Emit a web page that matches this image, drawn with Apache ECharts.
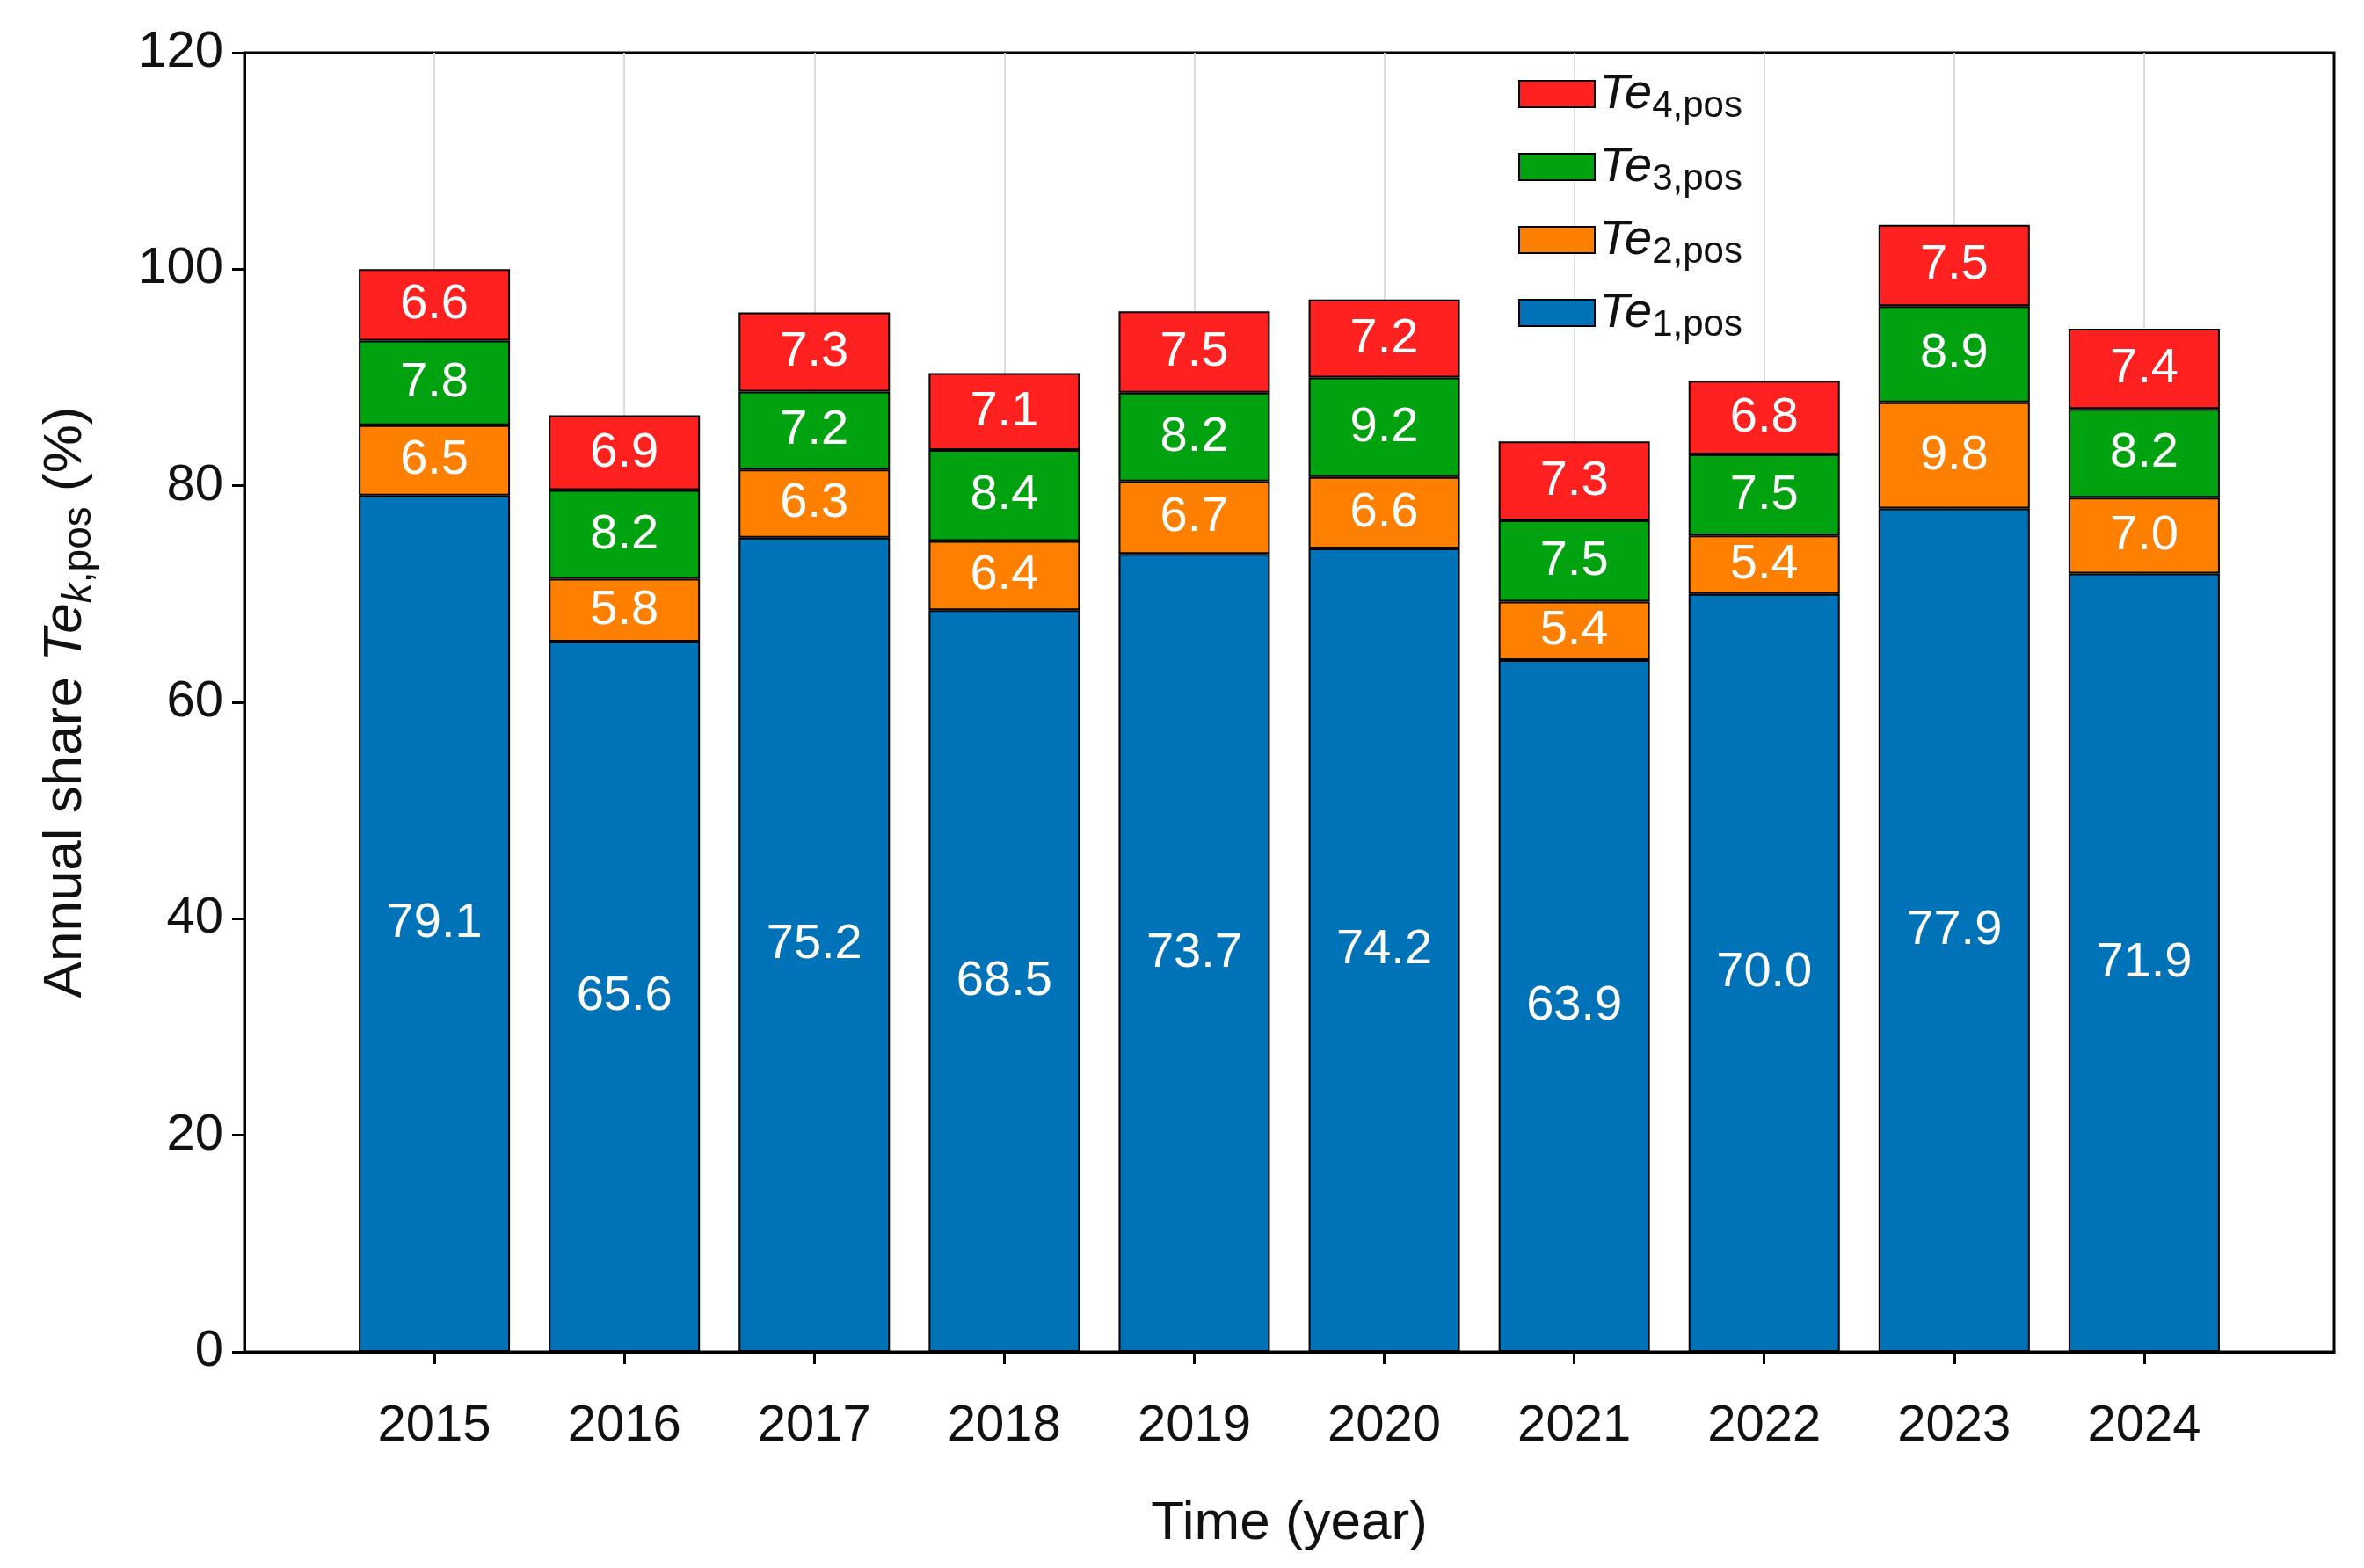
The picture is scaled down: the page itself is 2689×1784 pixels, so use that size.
<!DOCTYPE html>
<html>
<head>
<meta charset="utf-8">
<script src="https://cdn.jsdelivr.net/npm/echarts@6/dist/echarts.min.js"></script>
<style>html,body{margin:0;background:#fff}#chart{width:2689px;height:1784px}</style>
</head>
<body>
<div id="chart"></div>
<script>
const years = ['2015', '2016', '2017', '2018', '2019', '2020', '2021', '2022', '2023', '2024'];
const te1 = [79.1, 65.6, 75.2, 68.5, 73.7, 74.2, 63.9, 70.0, 77.9, 71.9];
const te2 = [6.5, 5.8, 6.3, 6.4, 6.7, 6.6, 5.4, 5.4, 9.8, 7.0];
const te3 = [7.8, 8.2, 7.2, 8.4, 8.2, 9.2, 7.5, 7.5, 8.9, 8.2];
const te4 = [6.6, 6.9, 7.3, 7.1, 7.5, 7.2, 7.3, 6.8, 7.5, 7.4];
const names = ['Te1', 'Te2', 'Te3', 'Te4'];
const colors = ['#0072b8', '#ff8000', '#00a30f', '#ff2020'];

const font = 'Liberation Sans, Arial, sans-serif';
// padded axis: one empty slot on each side so bars sit one step from the frame
const cats = [''].concat(years, [' ']);
const inner = i => i > 0 && i < cats.length - 1;
const myChart = echarts.init(document.getElementById('chart'));

function mk(i, vals) {
  return {
    name: names[i],
    type: 'bar',
    stack: 'total',
    barWidth: 172,
    data: [null].concat(vals, [null]),
    itemStyle: { color: colors[i], borderColor: '#000', borderWidth: 2 },
    label: {
      show: true, position: 'inside', color: '#fff', fontSize: 56, fontFamily: font,
      formatter: p => Number(p.value).toFixed(1)
    },
    emphasis: { disabled: true }
  };
}

const option = {
  animation: false,
  grid: { left: 278, right: 34, top: 60, bottom: 246, show: true, borderColor: '#000', borderWidth: 3, backgroundColor: 'transparent' },
  legend: {
    orient: 'vertical',
    left: 1722, top: 74,
    icon: 'rect',
    itemWidth: 86, itemHeight: 30, itemGap: 20,
    data: ['Te4', 'Te3', 'Te2', 'Te1'],
    formatter: n => '{a|Te}{b|' + n.slice(2) + ',pos}',
    textStyle: {
      fontFamily: font, color: '#111',
      rich: {
        a: { fontSize: 56, fontStyle: 'italic', fontFamily: font },
        b: { fontSize: 42, fontFamily: font, padding: [28, 0, 0, 0] }
      }
    }
  },
  xAxis: {
    type: 'category', data: cats, boundaryGap: false,
    name: 'Time (year)', nameLocation: 'middle', nameGap: 165,
    nameTextStyle: { fontSize: 62, fontFamily: font, color: '#111' },
    axisLine: { show: true, lineStyle: { color: '#000', width: 3 } },
    axisTick: { show: true, length: 14, interval: i => inner(i), lineStyle: { color: '#000', width: 3 } },
    axisLabel: { fontSize: 58, fontFamily: font, color: '#111', margin: 56, interval: 0 },
    splitLine: { show: true, interval: i => inner(i), lineStyle: { color: '#dcdcdc', width: 2 } }
  },
  yAxis: {
    type: 'value', min: 0, max: 120, interval: 20,
    name: '{n|Annual share }{i|Te}{s|k}{p|,pos}{n| (%)}',
    nameLocation: 'middle', nameGap: 165,
    nameTextStyle: {
      color: '#111',
      rich: {
        n: { fontSize: 62, fontFamily: font, color: '#111' },
        i: { fontSize: 62, fontFamily: font, fontStyle: 'italic', color: '#111' },
        s: { fontSize: 46, fontFamily: font, fontStyle: 'italic', color: '#111', padding: [30, 0, 0, 0] },
        p: { fontSize: 46, fontFamily: font, color: '#111', padding: [30, 0, 0, 0] }
      }
    },
    axisLine: { show: true, lineStyle: { color: '#000', width: 3 } },
    axisTick: { show: true, length: 14, lineStyle: { color: '#000', width: 3 } },
    axisLabel: { fontSize: 58, fontFamily: font, color: '#111', margin: 24 },
    splitLine: { show: false }
  },
  series: [mk(0, te1), mk(1, te2), mk(2, te3), mk(3, te4)]
};
myChart.setOption(option);
</script>
</body>
</html>
